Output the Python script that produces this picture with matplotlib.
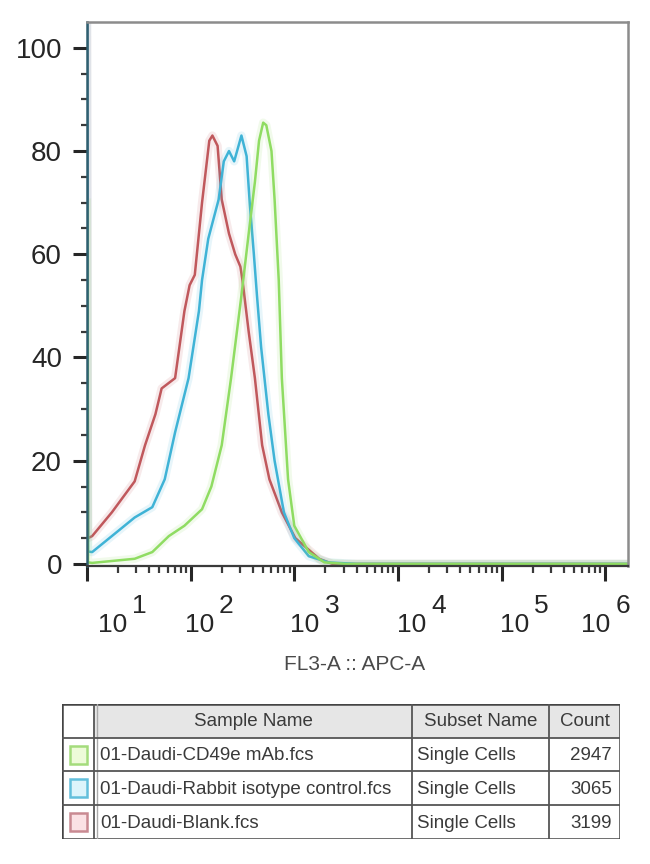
import numpy as np
import matplotlib
matplotlib.use("Agg")
import matplotlib.pyplot as plt
from matplotlib.patches import Rectangle

plt.rcParams['font.family'] = ['Liberation Sans', 'DejaVu Sans']

# ---------------- data (x given as log10 of FL3-A intensity) ----------------
red_logx = [1.0, 1.01, 1.05, 1.24, 1.46, 1.56, 1.66, 1.72, 1.85, 1.94, 1.99, 2.04, 2.11,
            2.18, 2.21, 2.26, 2.30, 2.37, 2.43, 2.48, 2.50, 2.56, 2.62, 2.69, 2.76, 2.88,
            3.01, 3.24, 3.37, 3.6, 6.22]
red_y = [110, 5.0, 5.4, 10, 16, 23, 29, 34, 36, 49, 54, 56, 70,
         82, 83, 81, 70.6, 64, 60, 57.6, 55, 45, 36, 23, 16.4, 10,
         5, 1, 0, 0, 0]

blue_logx = [1.0, 1.01, 1.05, 1.24, 1.46, 1.63, 1.75, 1.85, 1.98, 2.08, 2.11, 2.17, 2.27,
             2.32, 2.37, 2.42, 2.49, 2.54, 2.57, 2.61, 2.64, 2.68, 2.75, 2.81, 2.90,
             3.0, 3.14, 3.33, 3.6, 6.22]
blue_y = [110, 2.4, 2.3, 5.4, 9, 11, 16.4, 25.5, 36, 49, 55, 63, 70.6,
          78, 80, 78, 83, 79, 70, 60, 52, 42, 29, 20, 10,
          5, 1.5, 0.3, 0, 0]

green_logx = [1.0, 1.01, 1.05, 1.46, 1.63, 1.79, 1.94, 2.11, 2.20, 2.30, 2.39, 2.49, 2.56,
              2.62, 2.66, 2.70, 2.73, 2.78, 2.81, 2.85, 2.88, 2.94, 3.0, 3.14, 3.29,
              3.5, 6.22]
green_y = [70, 0.3, 0.2, 1, 2.3, 5.4, 7.4, 10.6, 15, 23, 36, 52, 64,
           74, 82, 85.5, 85, 80, 70.6, 55, 36, 16.4, 7.4, 2.3, 0.3,
           0, 0]

sample_names = ["01-Daudi-CD49e mAb.fcs",
                "01-Daudi-Rabbit isotype control.fcs",
                "01-Daudi-Blank.fcs"]
subset_names = ["Single Cells", "Single Cells", "Single Cells"]
counts = [2947, 3065, 3199]
header = ["Sample Name", "Subset Name", "Count"]

y_ticks = [0, 20, 40, 60, 80, 100]
x_decades = [1, 2, 3, 4, 5, 6]

line_colors = ["#8fdc62", "#3fb3d6", "#c0585c"]        # green, blue, red
swatch_fill = ["#eefbd9", "#dcf4fb", "#fbe2e5"]
swatch_edge = ["#a4dc7c", "#62bfdc", "#c98a92"]

# ---------------- figure ----------------
fig = plt.figure(figsize=(6.5, 8.64), dpi=100)
W, H = 650, 864
ax = fig.add_axes([87 / W, (H - 566) / H, (628 - 87) / W, (566 - 22) / H])

series = [(red_logx, red_y, line_colors[2]),
          (blue_logx, blue_y, line_colors[1]),
          (green_logx, green_y, line_colors[0])]
for lx, yy, c in series:
    xv = 10 ** np.array(lx)
    ax.plot(xv, yy, color=c, lw=6, alpha=0.12, solid_joinstyle='round')
    ax.plot(xv, yy, color=c, lw=1.8, solid_joinstyle='round')

ax.set_xscale('log')
ax.set_xlim(10 ** 1.0, 10 ** 6.22)
ax.set_ylim(-0.4, 105)

tick_col = '#262626'
# y ticks
ax.set_yticks(y_ticks)
ax.set_yticks(np.arange(0, 101, 5), minor=True)
ax.tick_params(axis='y', which='major', direction='out', length=10, width=2.2,
               color=tick_col, labelsize=20, labelcolor=tick_col, pad=8)
ax.tick_params(axis='y', which='minor', direction='out', length=4, width=1.6,
               color='#3a3a3a')

# x ticks
ax.set_xticks([10.0 ** d for d in x_decades])
minor = [m * 10.0 ** d for d in range(1, 7) for m in range(2, 10) if m * 10.0 ** d < 10 ** 6.22]
ax.set_xticks(minor, minor=True)
ax.set_xticklabels([])
ax.set_xticklabels([], minor=True)
ax.tick_params(axis='x', which='major', direction='out', length=11, width=2.2, color=tick_col)
ax.tick_params(axis='x', which='minor', direction='out', length=5, width=1.6, color='#3a3a3a')

# custom x tick labels "10" with full-size superscript
label_offsets_px = [11, -6, -4, -1, -2, -24]
for d, off in zip(x_decades, label_offsets_px):
    t = ax.annotate("10", xy=(10.0 ** d, 0), xycoords=('data', 'axes fraction'),
                    xytext=(off, -66), textcoords='offset pixels',
                    ha='left', va='baseline', fontsize=19, color=tick_col)
    ax.annotate(str(d), xy=(1, 0), xycoords=t, xytext=(5, 24), textcoords='offset pixels',
                ha='left', va='baseline', fontsize=19, color=tick_col)

for s in ['top', 'right']:
    ax.spines[s].set_color('#8c8c8c')
    ax.spines[s].set_linewidth(1.8)
ax.spines['bottom'].set_color('#3a3a3a')
ax.spines['bottom'].set_linewidth(1.6)
ax.spines['left'].set_color('#2f5f70')
ax.spines['left'].set_linewidth(1.8)

fig.text(355 / W, 1 - 665 / H, "FL3-A :: APC-A", ha='center', va='center',
         fontsize=15, color='#4a4a4a')

# ---------------- legend table ----------------
tx0, tx1, ty0, ty1 = 62, 620, 704, 839
tab = fig.add_axes([tx0 / W, (H - ty1) / H, (tx1 - tx0) / W, (ty1 - ty0) / H])
tw, th = tx1 - tx0, ty1 - ty0
tab.set_xlim(0, tw)
tab.set_ylim(th, 0)
tab.axis('off')

col_x = [0, 32, 350, 487, tw]
row_y = [0, 34, 67, 101, th]

tab.add_patch(Rectangle((col_x[1], 0), tw - col_x[1], row_y[1], facecolor='#e6e6e6',
                        edgecolor='none'))
lc = '#555555'
for x in col_x[1:-1]:
    tab.plot([x, x], [0, th], color=lc, lw=1.3)
tab.plot([col_x[1] + 3, col_x[1] + 3], [0, th], color='#aaaaaa', lw=1.0)
for y in row_y[1:-1]:
    tab.plot([0, tw], [y, y], color=lc, lw=1.3)
tab.add_patch(Rectangle((0, 0), tw, th, facecolor='none', edgecolor='#444444', lw=1.8))

fs = 13.5
hc = [(col_x[1] + col_x[2]) / 2, (col_x[2] + col_x[3]) / 2, (col_x[3] + col_x[4]) / 2]
for txt, x in zip(header, hc):
    tab.text(x, row_y[1] / 2 + 1, txt, ha='center', va='center', fontsize=fs, color='#3a3a3a')

for i in range(3):
    yc = (row_y[i + 1] + row_y[i + 2]) / 2
    tab.add_patch(Rectangle((8, yc - 9), 17, 18, facecolor=swatch_fill[i],
                            edgecolor=swatch_edge[i], lw=1.8))
    tab.text(col_x[1] + 6, yc + 1, sample_names[i], ha='left', va='center',
             fontsize=fs, color='#3a3a3a')
    tab.text(col_x[2] + 5, yc + 1, subset_names[i], ha='left', va='center',
             fontsize=fs, color='#3a3a3a')
    tab.text(col_x[4] - 8, yc + 1, str(counts[i]), ha='right', va='center',
             fontsize=fs, color='#3a3a3a')

fig.savefig("out.png", dpi=100)
